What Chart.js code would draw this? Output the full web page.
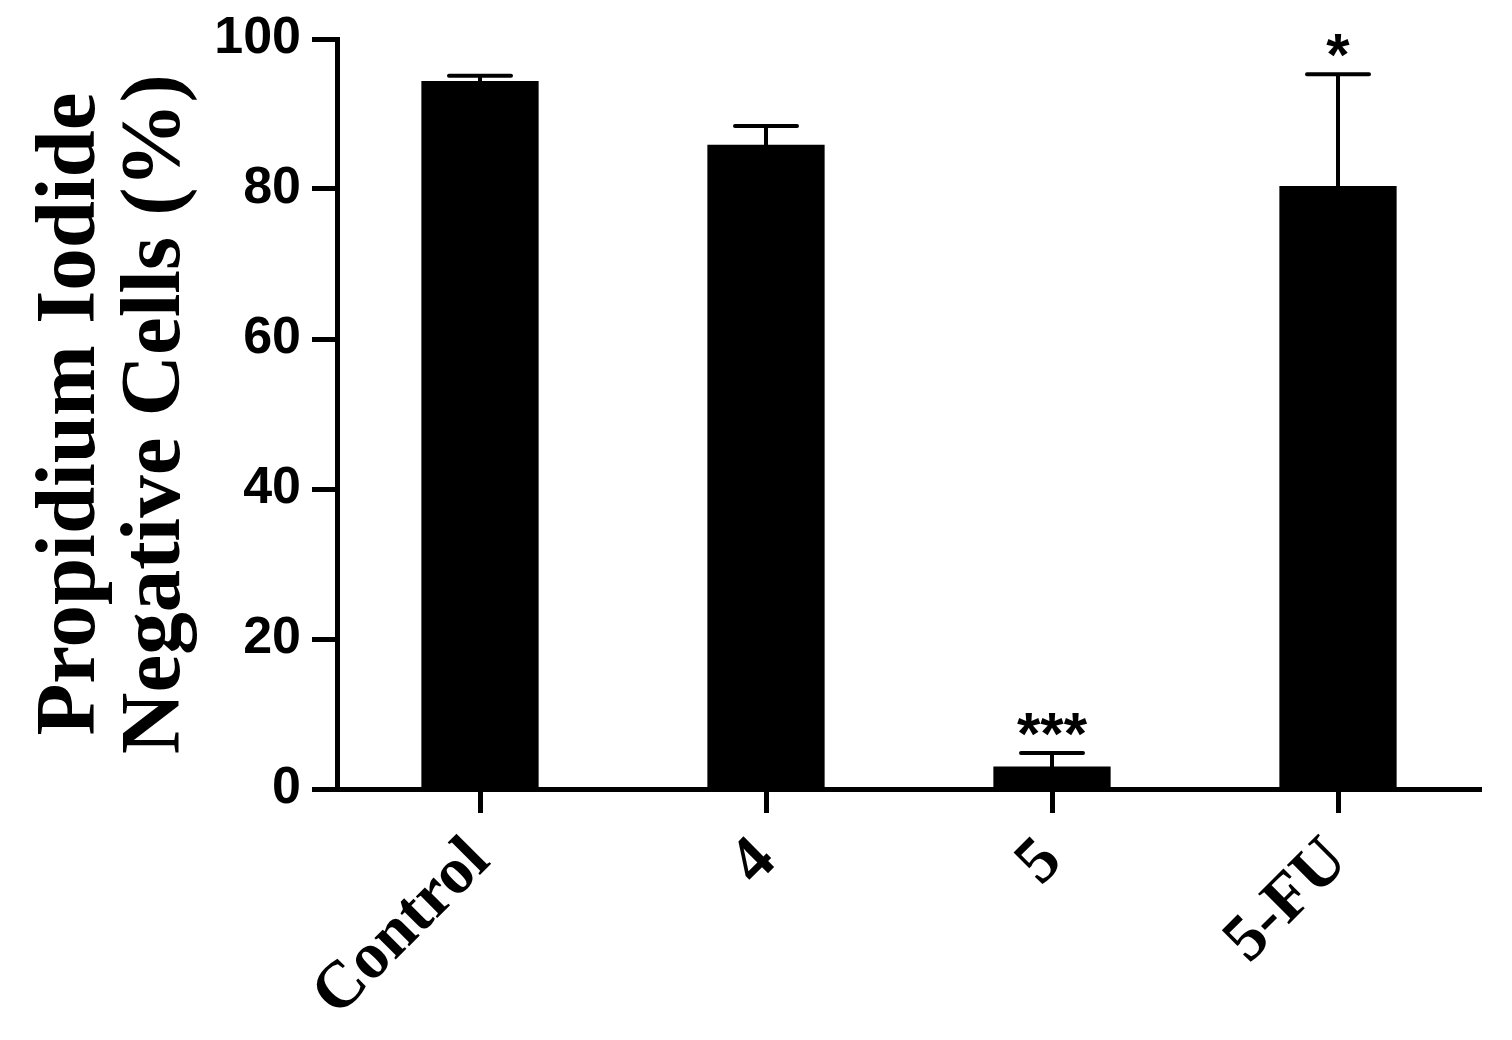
<!DOCTYPE html>
<html>
<head>
<meta charset="utf-8">
<script src="https://cdn.jsdelivr.net/npm/chart.js@4.4.1/dist/chart.umd.min.js"></script>
<style>
    html, body { margin: 0; padding: 0; background: #fff; }
    canvas { display: block; }
</style>
</head>
<body>
<canvas id="piChart" width="1512" height="1040"></canvas>
<script>
const categorias = ['Control', '4', '5', '5-FU'];
const valores = [94.4, 85.9, 3.0, 80.4];
const errorSuperior = [95.1, 88.4, 4.8, 95.3];
const significancia = ['', '', '***', '*'];
const yTicks = [0, 20, 40, 60, 80, 100];
const tituloY = ['Propidium Iodide', 'Negative Cells (%)'];

const serif = '"Liberation Serif", "Times New Roman", serif';
const sans = '"Liberation Sans", Arial, sans-serif';

// Barras de error (solo hacia arriba) y asteriscos
const errorBarsPlugin = {
    id: 'errorBars',
    afterDatasetsDraw(chart) {
        const ctx = chart.ctx;
        const x = chart.scales.x;
        const y = chart.scales.y;
        ctx.save();
        ctx.strokeStyle = '#000';
        ctx.fillStyle = '#000';
        ctx.lineWidth = 4;
        ctx.lineCap = 'round';
        categorias.forEach((cat, i) => {
            const cx = x.getPixelForValue(i);
            const yTop = y.getPixelForValue(valores[i]);
            const yErr = y.getPixelForValue(errorSuperior[i]);
            ctx.beginPath();
            ctx.moveTo(cx, yTop);
            ctx.lineTo(cx, yErr);
            ctx.moveTo(cx - 31, yErr);
            ctx.lineTo(cx + 31, yErr);
            ctx.stroke();
            if (significancia[i]) {
                ctx.font = 'bold 60px ' + sans;
                ctx.textAlign = 'center';
                ctx.textBaseline = 'alphabetic';
                ctx.fillText(significancia[i], cx, yErr + 1);
            }
        });
        ctx.restore();
    }
};

new Chart(document.getElementById('piChart'), {
    type: 'bar',
    data: {
        labels: categorias,
        datasets: [{
            data: valores,
            backgroundColor: '#000',
            borderWidth: 0,
            categoryPercentage: 1,
            barPercentage: 0.41
        }]
    },
    options: {
        responsive: false,
        animation: false,
        layout: { padding: { top: 39, right: 31, left: 0, bottom: 0 } },
        plugins: {
            legend: { display: false },
            tooltip: { enabled: false }
        },
        scales: {
            x: {
                offset: true,
                grid: {
                    offset: false,
                    drawOnChartArea: false,
                    drawTicks: true,
                    tickLength: 24,
                    tickWidth: 5,
                    tickColor: '#000'
                },
                border: { display: true, color: '#000', width: 5 },
                ticks: {
                    color: '#000',
                    font: { family: serif, size: 66, weight: 'bold' },
                    minRotation: 45,
                    maxRotation: 45,
                    autoSkip: false,
                    padding: 10
                },
                afterFit(scale) {
                    scale.height = 251;
                    scale.paddingLeft = 0;
                    scale.paddingRight = 0;
                }
            },
            y: {
                min: 0,
                max: 100,
                afterBuildTicks(scale) { scale.ticks = yTicks.map(v => ({ value: v })); },
                grid: {
                    drawOnChartArea: false,
                    drawTicks: true,
                    tickLength: 25,
                    tickWidth: 5,
                    tickColor: '#000'
                },
                border: { display: true, color: '#000', width: 5 },
                ticks: {
                    color: '#000',
                    font: { family: sans, size: 52, weight: 'bold' },
                    padding: 11
                },
                title: {
                    display: true,
                    text: tituloY,
                    color: '#000',
                    font: { family: serif, size: 85, weight: 'bold', lineHeight: 1 },
                    padding: { top: 30, bottom: 0 }
                },
                afterFit(scale) {
                    scale.width = 337;
                    scale.paddingTop = 0;
                    scale.paddingBottom = 0;
                }
            }
        }
    },
    plugins: [errorBarsPlugin]
});
</script>
</body>
</html>
